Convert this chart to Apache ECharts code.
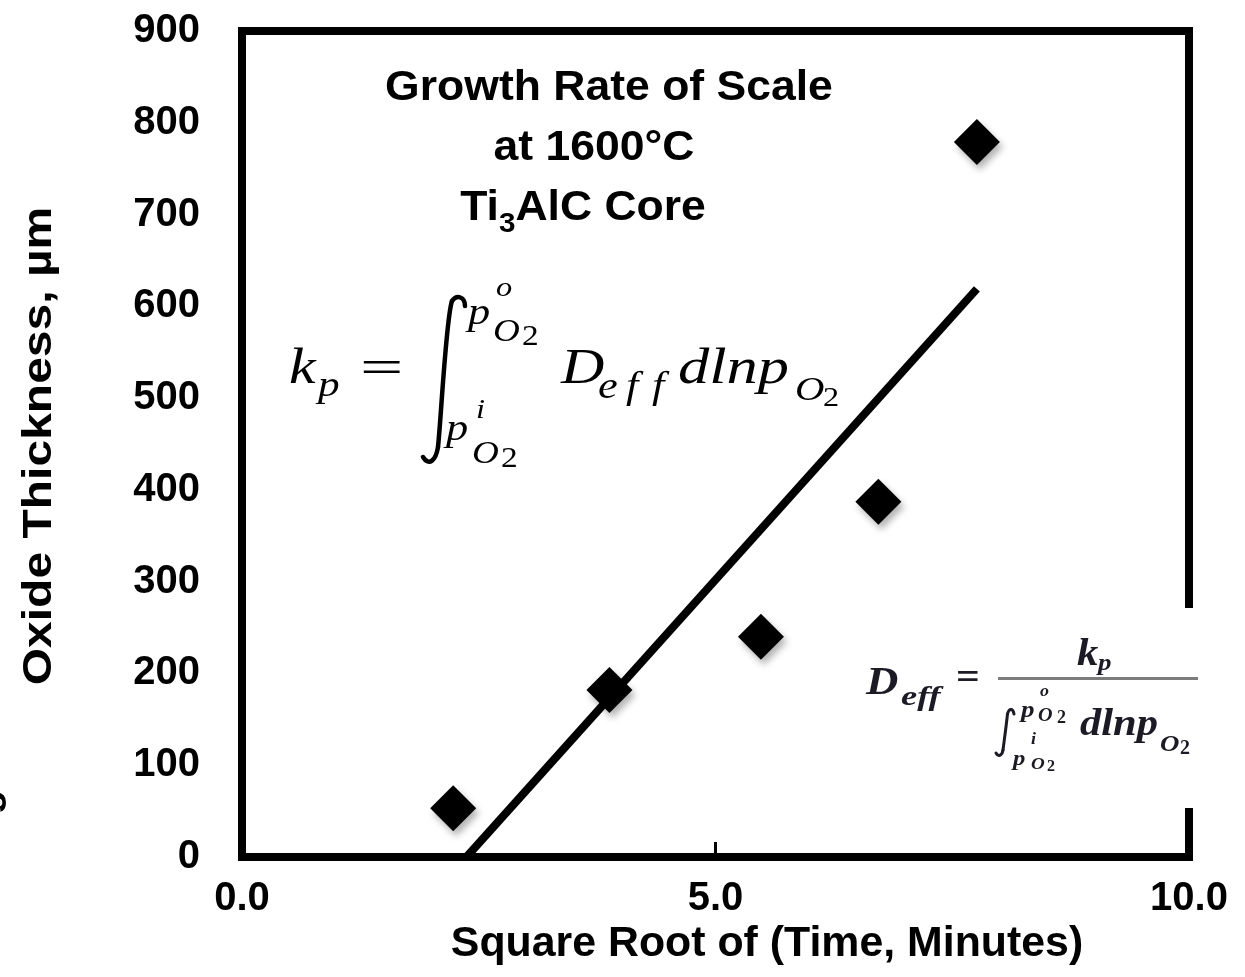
<!DOCTYPE html>
<html><head><meta charset="utf-8">
<script src="https://cdn.jsdelivr.net/npm/echarts@6/dist/echarts.min.js"></script>
<style>html,body{margin:0;padding:0;background:#fff}#c{width:1245px;height:977px}</style>
</head><body><div id="c"></div>
<script>
// ---- data ----
const timeRoot = [2.23, 3.88, 5.48, 6.72, 7.76];      // sqrt(time, min)
const thickness = [53, 182, 240, 387, 779];           // oxide thickness, µm
const trendX = [2.37, 7.76];
const trendY = [0, 619];
const xRange = [0, 10];
const yRange = [0, 900];
const titleLines = ['Growth Rate of Scale', 'at 1600°C'];
const xName = 'Square Root of (Time, Minutes)';
const yName = 'Oxide Thickness, µm';

const SANS = '"Liberation Sans", Arial, sans-serif';
const SERIF = '"Liberation Serif", "Times New Roman", serif';

function T(s, x, baseline, fs, o) {
  o = o || {};
  const font = (o.style || 'italic') + ' ' + (o.weight || 'normal') + ' ' + fs + 'px ' + (o.fam || SERIF);
  return {
    type: 'text', x: x, y: o.rot ? baseline : baseline - 0.34 * fs, z: o.z || 101,
    scaleX: o.sx || 1, rotation: o.rot || 0,
    style: { text: s, x: 0, y: 0, font: font, fill: o.fill || '#000',
      align: o.align || 'left', verticalAlign: 'middle',
      textAlign: o.align || 'left', textVerticalAlign: 'middle' }
  };
}
function C(x1, y1, c1x, c1y, c2x, c2y, x2, y2, w, col) {
  return { type: 'bezierCurve', z: 101,
    shape: { x1: x1, y1: y1, cpx1: c1x, cpy1: c1y, cpx2: c2x, cpy2: c2y, x2: x2, y2: y2 },
    style: { stroke: col || '#000', lineWidth: w, fill: null, lineCap: 'round' } };
}

const chart = echarts.init(document.getElementById('c'), null, { renderer: 'canvas' });

const mainEq = [];
const M = { sx: 1.2 };
const U = { style: 'normal', sx: 1.15 };
mainEq.push(T('k', 289, 387, 50, M));
mainEq.push(T('p', 318, 399, 36, M));
mainEq.push(T('=', 360, 387, 48, { style: 'normal', sx: 1.6 }));
// upper limit
mainEq.push(T('p', 468, 327, 37, M));
mainEq.push(T('o', 496, 298, 27, M));
mainEq.push(T('O', 493, 343, 31, M));
mainEq.push(T('2', 522, 347, 29, U));
// lower limit
mainEq.push(T('p', 446, 443, 37, M));
mainEq.push(T('i', 476, 420, 27, M));
mainEq.push(T('O', 472, 465, 31, M));
mainEq.push(T('2', 501, 469, 29, U));
mainEq.push(T('D', 561, 387, 50, M));
mainEq.push(T('e', 598, 401, 37, M));
mainEq.push(T('f', 626, 401, 37, M));
mainEq.push(T('f', 652, 401, 37, M));
mainEq.push(T('dlnp', 678, 387, 50, { sx: 1.25 }));
mainEq.push(T('O', 795, 403, 34, M));
mainEq.push(T('2', 823, 408, 28, U));
// integral sign
mainEq.push(C(465, 306, 465, 297, 457, 294, 452, 301, 4.5));
mainEq.push(C(452, 301, 446, 318, 441, 420, 438, 447, 4.5));
mainEq.push(C(438, 447, 436, 460, 429, 467, 423, 457, 4.5));

const EQC = '#1c1a24';
const S = { weight: 'bold', fill: EQC, sx: 1.12 };
const smallEq = [
  { type: 'rect', z: 100, shape: { x: 856, y: 608, width: 345, height: 200 }, style: { fill: '#fff' } },
  T('D', 866, 697, 40, S),
  T('eff', 901, 707, 28, { weight: 'bold', fill: EQC, sx: 1.3 }),
  T('=', 956, 692, 38, { style: 'normal', weight: 'bold', fill: EQC, sx: 1.1 }),
  { type: 'rect', z: 101, shape: { x: 998, y: 677, width: 200, height: 3 }, style: { fill: '#7c7c7c' } },
  T('k', 1077, 668, 38, S),
  T('p', 1098, 672, 24, S),
  T('p', 1021, 719, 24, S),
  T('o', 1040, 697, 16, S),
  T('O', 1038, 722, 18, S),
  T('2', 1057, 724, 18, { style: 'normal', weight: 'bold', fill: EQC }),
  T('dlnp', 1080, 738, 38, S),
  T('O', 1160, 753, 24, S),
  T('2', 1180, 756, 20, { style: 'normal', weight: 'bold', fill: EQC }),
  T('i', 1031, 745, 16, S),
  T('p', 1013, 767, 22, S),
  T('O', 1031, 770, 17, S),
  T('2', 1047, 772, 16, { style: 'normal', weight: 'bold', fill: EQC }),
  C(1014, 714, 1013, 708, 1009, 708, 1007.5, 714, 3, EQC),
  C(1007.5, 714, 1006, 728, 1004, 742, 1003, 750, 3, EQC),
  C(1003, 750, 1002, 756, 998, 757, 996, 753, 3, EQC)
];

const B = { style: 'normal', weight: 'bold', fam: SANS, align: 'center' };
const titleEls = [
  T(titleLines[0], 609, 103, 42, Object.assign({ sx: 1.06 }, B)),
  T(titleLines[1], 594, 163, 42, Object.assign({ sx: 1.06 }, B)),
  {
    type: 'text', x: 583, y: 208, z: 101, scaleX: 1.06,
    style: {
      text: '{a|Ti}{b|3}{a|AlC Core}', x: 0, y: 0,
      align: 'center', verticalAlign: 'middle', textAlign: 'center', textVerticalAlign: 'middle',
      rich: {
        a: { fontSize: 42, fontWeight: 'bold', fontFamily: SANS, color: '#000', lineHeight: 60, verticalAlign: 'middle' },
        b: { fontSize: 28, fontWeight: 'bold', fontFamily: SANS, color: '#000', lineHeight: 20, verticalAlign: 'bottom' }
      }
    }
  },
  T(xName, 767, 959, 42, Object.assign({ sx: 1.02 }, B)),
  T(yName, 40, 446, 40, Object.assign({ sx: 1.2, rot: Math.PI / 2 }, B)),
  T('g', -13, 802, 40, Object.assign({ rot: Math.PI / 2 }, B))
];

const option = {
  animation: false,
  backgroundColor: '#fff',
  grid: { left: 242, right: 56, top: 31, bottom: 120, show: true, borderColor: '#000', borderWidth: 8 },
  xAxis: {
    type: 'value', min: xRange[0], max: xRange[1], interval: 5,
    axisLine: { show: false },
    axisTick: { show: true, inside: true, length: 15, lineStyle: { color: '#000', width: 3 } },
    splitLine: { show: false },
    axisLabel: { formatter: v => v.toFixed(1), fontSize: 40, fontWeight: 'bold', fontFamily: SANS, color: '#000', margin: 22 }
  },
  yAxis: {
    type: 'value', min: yRange[0], max: yRange[1], interval: 100,
    axisLine: { show: false }, axisTick: { show: false }, splitLine: { show: false },
    axisLabel: { fontSize: 40, fontWeight: 'bold', fontFamily: SANS, color: '#000', margin: 42 }
  },
  series: [
    { type: 'line', data: trendX.map((x, i) => [x, trendY[i]]), symbol: 'none', z: 2,
      lineStyle: { color: '#000', width: 8 } },
    { type: 'scatter', data: timeRoot.map((x, i) => [x, thickness[i]]), symbol: 'diamond', symbolSize: 46, z: 3,
      itemStyle: { color: '#000', opacity: 1, shadowBlur: 7, shadowColor: 'rgba(0,0,0,0.3)', shadowOffsetX: 3, shadowOffsetY: 5 } }
  ],
  graphic: { elements: titleEls.concat(mainEq, smallEq) }
};
chart.setOption(option);
</script>
</body></html>
